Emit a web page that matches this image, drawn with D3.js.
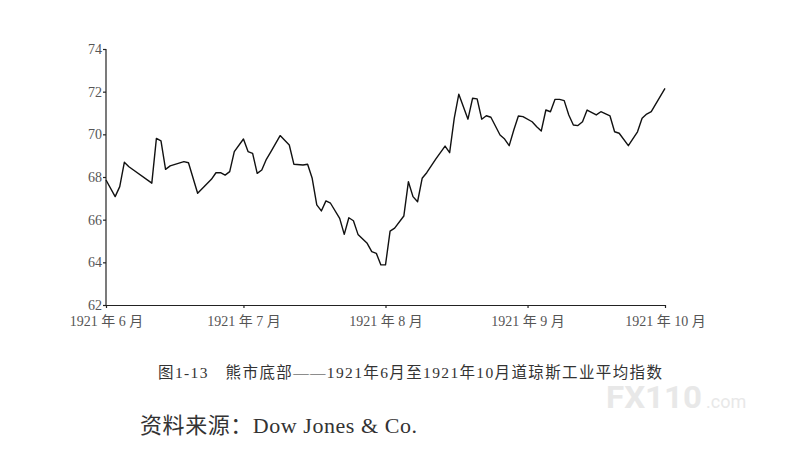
<!DOCTYPE html>
<html lang="zh">
<head>
<meta charset="UTF-8">
<title>熊市底部 1921</title>
<style>
  body { margin: 0; background: #fff; }
  .axis text { font: 14px "Liberation Serif", "Noto Sans CJK SC", serif; fill: #555; }
  .axis path, .axis line { stroke: #222; stroke-width: 1.2; }
  .caption { font-family: "Liberation Serif", "Noto Sans CJK SC", serif; }
</style>
</head>
<body>
<div id="chart"></div>
<script src="https://d3js.org/d3.v7.min.js"></script>
<script>
  // 道琼斯工业平均指数
  const dates = [
    "1921-06-01","1921-06-03","1921-06-04","1921-06-05","1921-06-06","1921-06-11","1921-06-12","1921-06-13",
    "1921-06-14","1921-06-15","1921-06-18","1921-06-19","1921-06-21","1921-06-24","1921-06-25","1921-06-26",
    "1921-06-27","1921-06-28","1921-06-29",
    "1921-07-01","1921-07-02","1921-07-03","1921-07-04","1921-07-05","1921-07-06","1921-07-07","1921-07-09",
    "1921-07-11","1921-07-12","1921-07-14","1921-07-15","1921-07-16","1921-07-17","1921-07-18","1921-07-19",
    "1921-07-20","1921-07-22","1921-07-23","1921-07-24","1921-07-25","1921-07-26","1921-07-28","1921-07-29",
    "1921-07-30","1921-07-31",
    "1921-08-01","1921-08-02","1921-08-03","1921-08-05","1921-08-06","1921-08-07","1921-08-08","1921-08-09",
    "1921-08-10","1921-08-12","1921-08-14","1921-08-15","1921-08-16","1921-08-17","1921-08-19","1921-08-20",
    "1921-08-21","1921-08-22","1921-08-23","1921-08-24","1921-08-26","1921-08-27","1921-08-28","1921-08-29",
    "1921-08-30","1921-08-31",
    "1921-09-02","1921-09-03","1921-09-04","1921-09-05","1921-09-06","1921-09-07","1921-09-08","1921-09-09",
    "1921-09-10","1921-09-11","1921-09-12","1921-09-13","1921-09-14","1921-09-16","1921-09-17","1921-09-19",
    "1921-09-20","1921-09-21","1921-09-23","1921-09-25","1921-09-26","1921-09-27","1921-09-28",
    "1921-10-01"
  ];
  const values = [
    67.86, 67.08, 67.55, 68.69, 68.48, 67.71, 69.81, 69.69, 68.36, 68.52, 68.72, 68.67, 67.24, 67.89, 68.20, 68.20,
    68.09, 68.25, 69.19,
    69.78, 69.19, 69.11, 68.17, 68.33, 68.83, 69.19, 69.94, 69.50, 68.60, 68.56, 68.60, 67.94, 66.69, 66.41, 66.88,
    66.77, 66.06, 65.31, 66.09, 65.95, 65.31, 64.89, 64.50, 64.42, 63.88,
    63.88, 65.46, 65.60, 66.17, 67.78, 67.08, 66.84, 67.94, 68.20, 68.85, 69.45, 69.14, 70.75, 71.88, 70.71, 71.69,
    71.66, 70.71, 70.87, 70.80, 69.97, 69.78, 69.47, 70.20, 70.86, 70.83,
    70.59, 70.36, 70.16, 71.14, 71.06, 71.64, 71.64, 71.58, 70.91, 70.44, 70.41, 70.59, 71.14, 70.91, 71.06, 70.86,
    70.12, 70.05, 69.47, 70.12, 70.75, 70.95, 71.06,
    72.15
  ];
  const monthTicks = ["1921-06-01", "1921-07-01", "1921-08-01", "1921-09-01", "1921-10-01"];
  const yTicks = [62, 64, 66, 68, 70, 72, 74];

  const width = 792, height = 457;
  const parse = d3.timeParse("%Y-%m-%d");

  const x = d3.scaleTime()
    .domain([parse(monthTicks[0]), parse(monthTicks[monthTicks.length - 1])])
    .range([106, 665]);
  const y = d3.scaleLinear().domain([62, 74]).range([305, 49]);

  const svg = d3.select("#chart").append("svg")
    .attr("width", width)
    .attr("height", height);

  svg.append("rect").attr("width", width).attr("height", height).attr("fill", "#fff");

  // axes
  svg.append("g")
    .attr("class", "axis")
    .attr("transform", "translate(0,305)")
    .call(d3.axisBottom(x)
      .tickValues(monthTicks.map(parse))
      .tickSize(3)
      .tickSizeOuter(0)
      .tickFormat(d => `1921 年 ${d.getMonth() + 1} 月`))
    .call(g => g.selectAll("text").attr("dy", "1.05em"));

  svg.append("g")
    .attr("class", "axis")
    .attr("transform", "translate(106,0)")
    .call(d3.axisLeft(y)
      .tickValues(yTicks)
      .tickSize(3)
      .tickSizeOuter(0)
      .tickPadding(1))
    .call(g => g.select(".domain").attr("d", "M0,305V49"));

  // index line
  const line = d3.line()
    .x((d, i) => x(parse(dates[i])))
    .y(d => y(d));

  svg.append("path")
    .datum(values)
    .attr("fill", "none")
    .attr("stroke", "#111")
    .attr("stroke-width", 1.4)
    .attr("stroke-linejoin", "round")
    .attr("d", line);

  // caption and source
  svg.append("text")
    .attr("class", "caption")
    .attr("x", 158)
    .attr("y", 378)
    .attr("font-size", 15.5)
    .attr("fill", "#333")
    .attr("textLength", 504)
    .text("图1-13　熊市底部——1921年6月至1921年10月道琼斯工业平均指数");

  svg.append("text")
    .attr("class", "caption")
    .attr("x", 140)
    .attr("y", 433)
    .attr("font-size", 22)
    .attr("fill", "#333")
    .attr("textLength", 277)
    .text("资料来源：Dow Jones & Co.");

  // watermark
  svg.append("text")
    .attr("x", 606)
    .attr("y", 408)
    .attr("fill", "#e8e8e8")
    .attr("font-family", "Roboto, 'DejaVu Sans', sans-serif")
    .attr("font-size", 32)
    .attr("font-weight", "bold")
    .attr("textLength", 96)
    .attr("lengthAdjust", "spacingAndGlyphs")
    .text("FX110");
  svg.append("text")
    .attr("x", 706)
    .attr("y", 408)
    .attr("fill", "#e8e8e8")
    .attr("font-family", "Roboto, 'DejaVu Sans', sans-serif")
    .attr("font-size", 18)
    .text(".com");
</script>
</body>
</html>
